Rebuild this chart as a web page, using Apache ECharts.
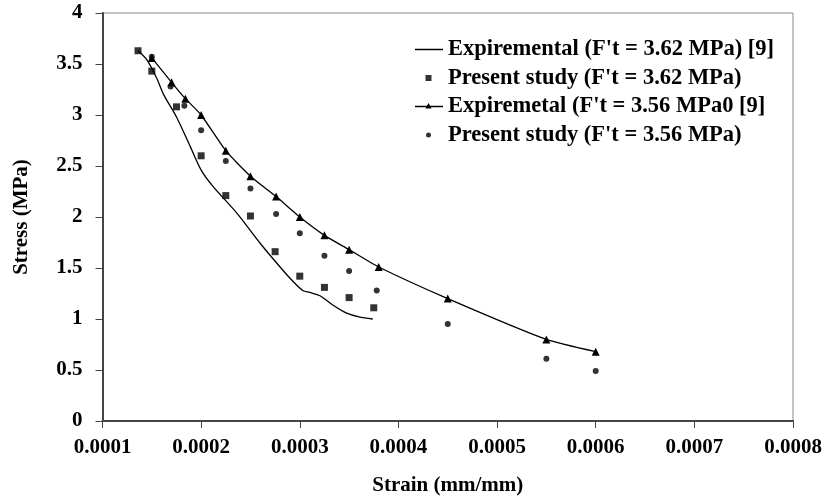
<!DOCTYPE html>
<html>
<head>
<meta charset="utf-8">
<script src="https://cdn.jsdelivr.net/npm/echarts@6/dist/echarts.min.js"></script>
<style>html,body{margin:0;padding:0;background:#fff}#c{width:825px;height:504px}</style>
</head>
<body>
<div id="c"></div>
<script>
// Experimental curve, F't = 3.62 MPa [9]
const exp362Strain = [0.000136, 0.000145, 0.000155, 0.000162, 0.000175, 0.000189, 0.0002, 0.000212, 0.000236, 0.00026, 0.00028, 0.000293, 0.000303, 0.00031, 0.00032, 0.000333, 0.000347, 0.00036, 0.000374];
const exp362Stress = [3.63, 3.54, 3.36, 3.2, 2.98, 2.69, 2.46, 2.3, 2.04, 1.74, 1.51, 1.37, 1.28, 1.26, 1.23, 1.14, 1.06, 1.02, 1.0];
// Present study, F't = 3.62 MPa
const pres362Strain = [0.000136, 0.00015, 0.000175, 0.0002, 0.000225, 0.00025, 0.000275, 0.0003, 0.000325, 0.00035, 0.000375];
const pres362Stress = [3.63, 3.43, 3.08, 2.6, 2.21, 2.01, 1.66, 1.42, 1.31, 1.21, 1.11];
// Experimental, F't = 3.56 MPa [9]
const exp356Strain = [0.00015, 0.00017, 0.000184, 0.0002, 0.000225, 0.00025, 0.000276, 0.0003, 0.000325, 0.00035, 0.00038, 0.00045, 0.00055, 0.0006];
const exp356Stress = [3.56, 3.32, 3.16, 3.0, 2.65, 2.4, 2.2, 2.0, 1.82, 1.68, 1.51, 1.2, 0.8, 0.68];
// Present study, F't = 3.56 MPa
const pres356Strain = [0.00015, 0.000169, 0.000183, 0.0002, 0.000225, 0.00025, 0.000276, 0.0003, 0.000325, 0.00035, 0.000378, 0.00045, 0.00055, 0.0006];
const pres356Stress = [3.57, 3.28, 3.09, 2.85, 2.55, 2.28, 2.03, 1.84, 1.62, 1.47, 1.28, 0.95, 0.61, 0.49];

const seriesNames = ["Expiremental (F't = 3.62 MPa) [9]", "Present study (F't = 3.62 MPa)", "Expiremetal (F't = 3.56 MPa0 [9]", "Present study (F't = 3.56 MPa)"];

const zip = (a, b) => a.map((v, i) => [v, b[i]]);
const FONT = '"Liberation Serif", "Times New Roman", serif';
const BOX = 'M0,0 L0.01,0 L0,0.01 Z M28,14 L27.99,14 L28,13.99 Z ';
const ICON_LINE = 'path://' + BOX + 'M0,6.3 L28,6.3 L28,7.7 L0,7.7 Z';
const ICON_SQ = 'path://' + BOX + 'M10.5,4 L16.5,4 L16.5,10 L10.5,10 Z';
const ICON_TRI = 'path://' + BOX + 'M0,6.3 L28,6.3 L28,7.7 L0,7.7 Z M10.5,9 L13.5,3.5 L16.5,9 Z';
const ICON_CIR = 'path://' + BOX + 'M11,7 A2.5,2.5 0 1 1 16,7 A2.5,2.5 0 1 1 11,7 Z';

const chart = echarts.init(document.getElementById('c'), null, {renderer: 'canvas'});
chart.setOption({
  animation: false,
  backgroundColor: '#fff',
  grid: {left: 102.5, right: 32, top: 13, bottom: 83, show: true, borderColor: '#888', borderWidth: 1},
  legend: {
    left: 410, top: 33, orient: 'vertical', itemGap: 5.5, itemWidth: 28, itemHeight: 14, itemTextGap: 6,
    textStyle: {fontFamily: FONT, fontWeight: 'bold', fontSize: 22.5, color: '#000'},
    data: [
      {name: seriesNames[0], icon: ICON_LINE},
      {name: seriesNames[1], icon: ICON_SQ},
      {name: seriesNames[2], icon: ICON_TRI},
      {name: seriesNames[3], icon: ICON_CIR}
    ]
  },
  xAxis: {
    type: 'value', min: 0.0001, max: 0.0008, interval: 0.0001,
    name: 'Strain (mm/mm)', nameLocation: 'middle', nameGap: 54,
    nameTextStyle: {fontFamily: FONT, fontWeight: 'bold', fontSize: 21, color: '#000'},
    axisLine: {onZero: false, lineStyle: {color: '#444', width: 2}},
    axisTick: {show: true, inside: false, length: 7, lineStyle: {color: '#444'}},
    splitLine: {show: false},
    axisLabel: {margin: 16, fontFamily: FONT, fontWeight: 'bold', fontSize: 21, color: '#000',
      formatter: v => v.toFixed(4)}
  },
  yAxis: {
    type: 'value', min: 0, max: 4, interval: 0.5,
    name: 'Stress (MPa)', nameLocation: 'middle', nameGap: 70, nameRotate: 90,
    nameTextStyle: {fontFamily: FONT, fontWeight: 'bold', fontSize: 21, color: '#000'},
    axisLine: {show: true, lineStyle: {color: '#444', width: 2}},
    axisTick: {show: true, inside: false, length: 7, lineStyle: {color: '#444'}},
    splitLine: {show: false},
    axisLabel: {margin: 20, fontFamily: FONT, fontWeight: 'bold', fontSize: 21, color: '#000'}
  },
  series: [
    {name: seriesNames[0], type: 'line', data: zip(exp362Strain, exp362Stress), showSymbol: false, symbol: 'none', smooth: 0.3,
      lineStyle: {color: '#000', width: 1.3}, itemStyle: {color: '#000'}},
    {name: seriesNames[1], type: 'scatter', data: zip(pres362Strain, pres362Stress), symbol: 'rect', symbolSize: 7,
      itemStyle: {color: '#000'}},
    {name: seriesNames[2], type: 'line', data: zip(exp356Strain, exp356Stress), symbol: 'triangle', symbolSize: 8, smooth: 0.2,
      showAllSymbol: true, lineStyle: {color: '#000', width: 1.3}, itemStyle: {color: '#000'}},
    {name: seriesNames[3], type: 'scatter', data: zip(pres356Strain, pres356Stress), symbol: 'circle', symbolSize: 6,
      itemStyle: {color: '#000'}}
  ]
});
</script>
</body>
</html>
